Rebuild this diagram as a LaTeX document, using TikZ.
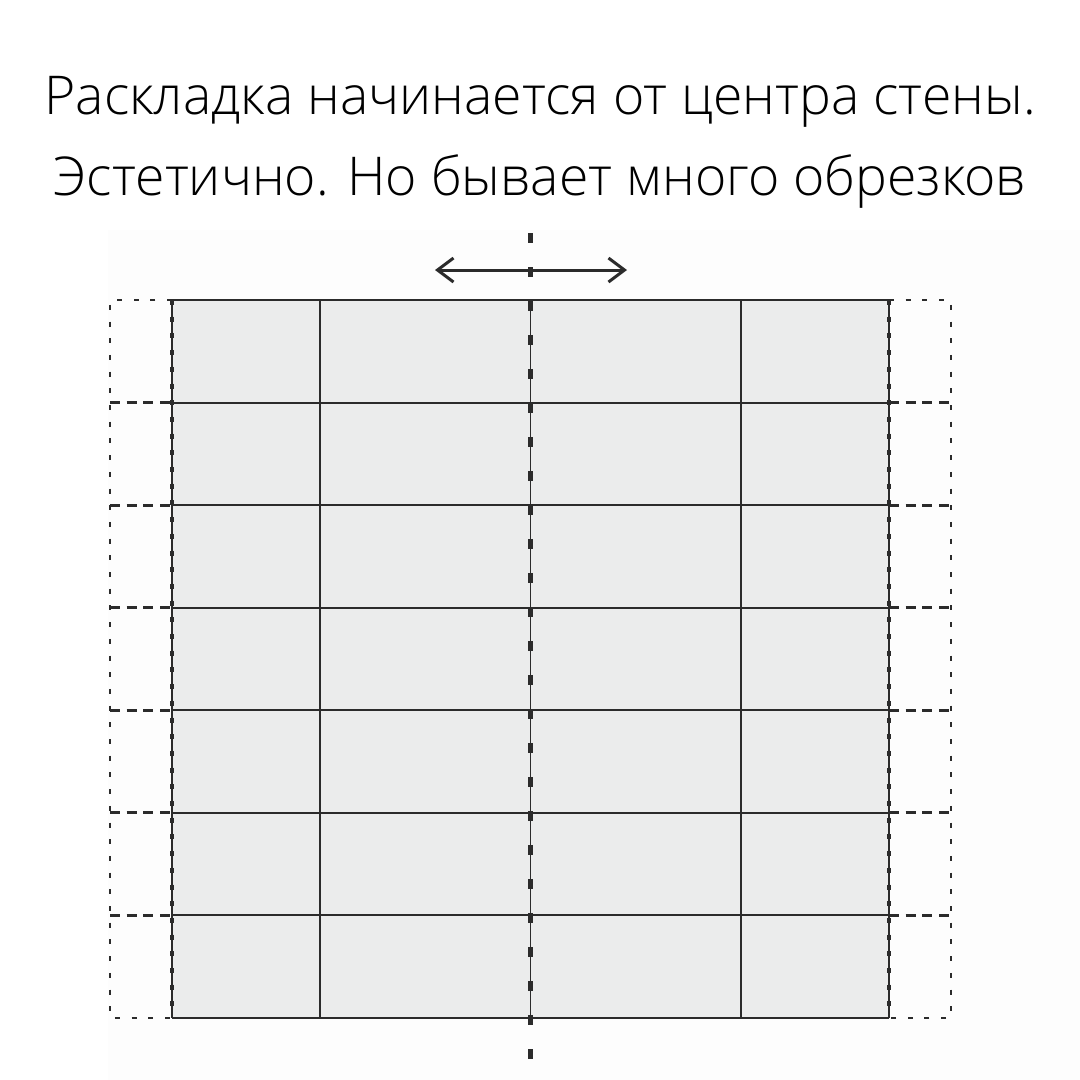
\documentclass[tikz,border=0pt]{standalone}
\usepackage{fontspec}
\setmainfont{Open Sans}[UprightFont={* Light}]
\usetikzlibrary{arrows.meta}
\definecolor{tilefill}{HTML}{EBECEC}
\definecolor{joint}{HTML}{2B2B2B}
\definecolor{paper}{HTML}{FDFDFD}
\tikzset{
  grout/.style={draw=joint,line width=2pt},
  ghostrow/.style={draw=joint,line width=3pt,dash pattern=on 10pt off 6.7pt},
  ghostedge/.style={draw=joint,line width=2.5pt,dash pattern=on 5pt off 11.7pt},
  axisline/.style={draw=joint,line width=5pt,dash pattern=on 10pt off 24pt},
  shiftarrow/.style={draw=joint,line width=3pt,{Straight Barb[length=16pt,width=24pt]}-{Straight Barb[length=16pt,width=24pt]}},
  heading/.style={anchor=base,inner sep=0pt,font=\fontsize{53.5}{64}\selectfont}
}
\begin{document}
\begin{tikzpicture}[x=1pt,y=-1pt]
	\useasboundingbox (0,0) rectangle (1080,1080);
	\fill[white] (0,0) rectangle (1080,1080);
	\fill[paper] (108,230) rectangle (1080,1080);
	% title
	\node[heading] (title1) at (540,114) {Раскладка начинается от центра стены.};
	\node[heading] (title2) at (540,195) {Эстетично. Но бывает много обрезков};
	% tiles
	\fill[tilefill] (172,300) rectangle (889,1018);
	\foreach \i in {0,...,7}
	\draw[grout] (172,{300+\i*102.57})--(889,{300+\i*102.57});
	\foreach \x in {172,320,741,889}
	\draw[grout] (\x,300)--(\x,1018);
	\draw[grout,line width=1.5pt] (530.5,300)--(530.5,1018);
	% cut-off parts
	\foreach \i in {1,...,6}
	\draw[ghostrow] (110,{300+\i*102.57})--(172,{300+\i*102.57}) (889,{300+\i*102.57})--(951,{300+\i*102.57});
	\draw[ghostedge] (172,300)--(110,300)--(110,1018)--(172,1018);
	\draw[ghostedge] (889,300)--(951,300)--(951,1018)--(889,1018);
	\draw[ghostedge,line width=3.5pt] (172,300)--(172,1018) (889,300)--(889,1018);
	% wall centre
	\coordinate (axistop) at (530.5,233);
	\coordinate (axisbottom) at (530.5,1080);
	\draw[axisline] (axistop)--(axisbottom);
	\coordinate (arrowleft) at (435,270);
	\coordinate (arrowright) at (627,270);
	\draw[shiftarrow] (arrowleft)--(arrowright);
\end{tikzpicture}
\end{document}
